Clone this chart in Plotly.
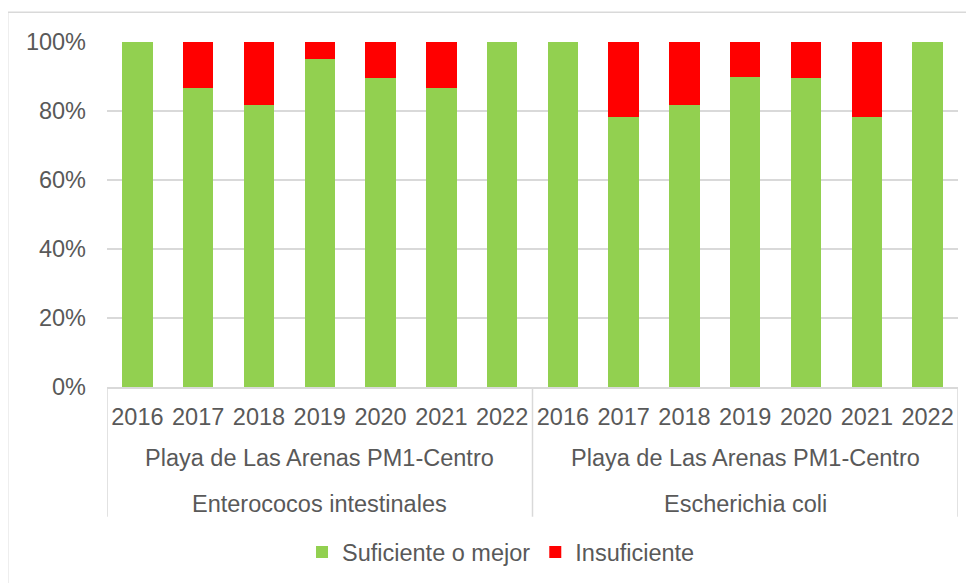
import plotly.graph_objects as go

years = ["2016", "2017", "2018", "2019", "2020", "2021", "2022",
         "2016", "2017", "2018", "2019", "2020", "2021", "2022"]
group_site = ["Playa de Las Arenas PM1-Centro", "Playa de Las Arenas PM1-Centro"]
group_param = ["Enterococos intestinales", "Escherichia coli"]

suficiente = [100, 86.8, 81.8, 95.1, 89.6, 86.8, 100,
              100, 78.4, 81.8, 90.0, 89.6, 78.4, 100]
insuficiente = [0, 13.2, 18.2, 4.9, 10.4, 13.2, 0,
                0, 21.6, 18.2, 10.0, 10.4, 21.6, 0]

series_names = ["Suficiente o mejor", "Insuficiente"]
colors = ["#92D050", "#FF0000"]

xpos = list(range(len(years)))
FONT = "Liberation Sans, Arial, sans-serif"
FS = 23.5
GRAY = "#595959"
LINE = "#D9D9D9"

fig = go.Figure()
for name, vals, col in zip(series_names, [suficiente, insuficiente], colors):
    fig.add_trace(go.Bar(x=xpos, y=vals, name=name, marker_color=col,
                         marker_line_width=0, width=0.5))

n_per_group = 7
# group labels (2nd and 3rd level of category axis)
for g in range(2):
    center = g * n_per_group + (n_per_group - 1) / 2
    fig.add_annotation(x=center, xref="x", y=-0.207, yref="paper",
                       text=group_site[g], showarrow=False, yanchor="middle",
                       font=dict(family=FONT, size=FS, color=GRAY))
    fig.add_annotation(x=center, xref="x", y=-0.338, yref="paper",
                       text=group_param[g], showarrow=False, yanchor="middle",
                       font=dict(family=FONT, size=FS, color=GRAY))

# category separators
for b in [-0.5, n_per_group - 0.5, 2 * n_per_group - 0.5]:
    fig.add_shape(type="line", xref="x", yref="paper", x0=b, x1=b, y0=0, y1=-0.376,
                  line=dict(color=LINE, width=1.5))

# outer chart frame (left and top edges)
fig.add_shape(type="line", xref="paper", yref="paper", x0=-0.1167, x1=-0.1167,
              y0=1.086, y1=-0.7, line=dict(color=LINE, width=1.5))
fig.add_shape(type="line", xref="paper", yref="paper", x0=-0.1167, x1=1.1,
              y0=1.086, y1=1.086, line=dict(color=LINE, width=1.5))

fig.update_layout(
    width=974, height=583,
    margin=dict(l=99, r=24, t=34, b=204),
    barmode="stack",
    plot_bgcolor="white", paper_bgcolor="white",
    font=dict(family=FONT, size=FS, color=GRAY),
    showlegend=True,
    legend=dict(orientation="h", traceorder="normal", x=0.463, xanchor="center",
                y=-0.479, yanchor="middle",
                font=dict(family=FONT, size=FS, color=GRAY),
                itemwidth=30, tracegroupgap=0),
    xaxis=dict(range=[-0.5, len(years) - 0.5], tickvals=xpos, ticktext=years,
               showgrid=False, zeroline=False, showline=True, linecolor=LINE,
               linewidth=1.5, ticks="", ticklabelstandoff=8,
               tickfont=dict(family=FONT, size=FS, color=GRAY)),
    yaxis=dict(range=[0, 100], dtick=20, ticksuffix="%", showgrid=True,
               gridcolor=LINE, gridwidth=1.5, zeroline=False, showline=False,
               ticks="", ticklabelstandoff=20,
               tickfont=dict(family=FONT, size=FS, color=GRAY)),
)

fig.write_html("out.html")
